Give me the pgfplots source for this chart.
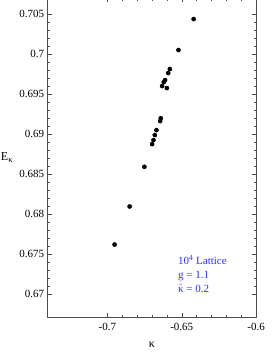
\documentclass[border=0pt]{standalone}
\usepackage{fontspec}
\setmainfont{Liberation Serif}
\usepackage{pgfplots}
\pgfplotsset{compat=1.18}
\definecolor{annblue}{RGB}{45,45,255}
\begin{document}
\begin{tikzpicture}
\begin{axis}[
  name=ax,
  scale only axis,
  width=208.3pt, height=318.7pt,
  xmin=-0.74, xmax=-0.6,
  ymin=0.6671, ymax=0.707,
  xtick={-0.7,-0.65,-0.6},
  xticklabels={-0.7,-0.65,-0.6},
  ytick={0.67,0.675,0.68,0.685,0.69,0.695,0.7,0.705},
  yticklabels={0.67,0.675,0.68,0.685,0.69,0.695,0.7,0.705},
  minor x tick num=4,
  minor y tick num=4,
  tick align=inside,
  major tick length=4pt,
  minor tick length=2.5pt,
  tick style={black!70, line width=0.5pt},
  axis line style={black!70, line width=0.6pt},
  tick label style={font=\fontsize{11}{13}\selectfont},
  /pgf/number format/assume math mode=true,
  xticklabel style={yshift=-2pt},
  xlabel={κ},
  xlabel style={font=\fontsize{12}{14}\selectfont, yshift=-5pt},
  ylabel={E\raisebox{-0.45ex}{\fontsize{8.5}{9}\selectfont κ}},
  ylabel style={rotate=-90, font=\fontsize{12}{14}\selectfont, xshift=0pt},
]
\addplot[only marks, mark=*, mark size=2.1pt, black] coordinates {
(-0.6420,0.70440)
(-0.6522,0.70053)
(-0.6580,0.69815)
(-0.6591,0.69765)
(-0.6612,0.69677)
(-0.6621,0.69652)
(-0.6632,0.69602)
(-0.6600,0.69577)
(-0.6641,0.69200)
(-0.6645,0.69164)
(-0.6670,0.69051)
(-0.6681,0.68989)
(-0.6690,0.68926)
(-0.6699,0.68876)
(-0.6751,0.68592)
(-0.6850,0.68096)
(-0.6951,0.67620)
};
\node[anchor=north west, inner sep=0pt, align=left, text=annblue,
      font=\fontsize{11}{14}\selectfont]
  at (axis cs:-0.6526,0.6749)
  {10\textsuperscript{4} Lattice\\ g = 1.1\\ \ensuremath{\tilde{\mbox{κ}}} = 0.2};
\end{axis}
\pgfresetboundingbox
\useasboundingbox ([xshift=-47.7pt,yshift=-40.7pt]ax.south west) rectangle ([xshift=21pt,yshift=-1.7pt]ax.north east);
\end{tikzpicture}
\end{document}
